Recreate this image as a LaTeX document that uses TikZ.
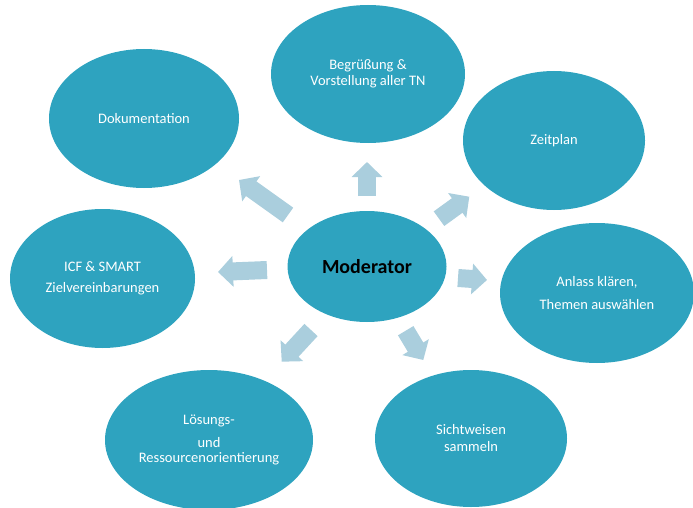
\documentclass[tikz,border=0pt]{standalone}
\usepackage{fontspec}
\setmainfont{Carlito}
\usetikzlibrary{shapes.geometric,arrows.meta}

\definecolor{ovalfill}{RGB}{46,163,191}
\definecolor{arrowfill}{RGB}{170,206,221}

\tikzset{
  oval/.style={ellipse, fill=ovalfill, inner sep=0pt, text=white, align=center,
    font=\fontsize{14.5}{17.4}\selectfont},
  hub/.style={oval, text=black, font=\bfseries\fontsize{20}{24}\selectfont},
  blockarrow/.style={draw=arrowfill, line width=18pt,
    -{Triangle[length=15pt,width=30pt]}}
}

\begin{document}
\begin{tikzpicture}[x=1pt,y=-1pt]
  \path[use as bounding box] (0,0) rectangle (693,508);

  % central hub
  \node[hub, minimum width=159pt, minimum height=111pt] (mod) at (367,266.5) {Moderator};

  % surrounding topics
  \node[oval, minimum width=194pt, minimum height=138pt] (beg) at (368,74)
    {Begrüßung \&\\[-1.4pt]Vorstellung aller TN};
  \node[oval, minimum width=190pt, minimum height=139pt] (dok) at (144,118.5)
    {Dokumentation};
  \node[oval, minimum width=182pt, minimum height=139pt] (zeit) at (554,140.5)
    {Zeitplan};
  \node[oval, minimum width=194pt, minimum height=140pt] (anl) at (597,293)
    {Anlass klären,\\[5.6pt]Themen auswählen};
  \node[oval, minimum width=185pt, minimum height=139pt] (icf) at (102.5,278.5)
    {ICF \& SMART\\[3.6pt]Zielvereinbarungen};
  \node[oval, minimum width=208pt, minimum height=140pt] (loe) at (209,440)
    {Lösungs-\\[5.6pt]und\\[-2.4pt]Ressourcenorientierung};
  \node[oval, minimum width=192pt, minimum height=137pt] (sic) at (471,438.5)
    {Sichtweisen\\[-0.4pt]sammeln};

  % block arrows pointing outwards from the hub
  \coordinate (upT) at (367,196);   \coordinate (upH) at (367,162);
  \coordinate (ulT) at (288,215);   \coordinate (ulH) at (239,180);
  \coordinate (urT) at (439,218.7); \coordinate (urH) at (469.3,196.7);
  \coordinate (lT)  at (267,270);   \coordinate (lH)  at (218,272);
  \coordinate (rT)  at (458,278);   \coordinate (rH)  at (487,280);
  \coordinate (llT) at (311,330);   \coordinate (llH) at (281.7,361.7);
  \coordinate (lrT) at (405.7,330.7); \coordinate (lrH) at (423.3,360);

  \draw[blockarrow] (upT) -- (upH);
  \draw[blockarrow] (ulT) -- (ulH);
  \draw[blockarrow] (urT) -- (urH);
  \draw[blockarrow] (lT) -- (lH);
  \draw[blockarrow] (rT) -- (rH);
  \draw[blockarrow] (llT) -- (llH);
  \draw[blockarrow] (lrT) -- (lrH);
\end{tikzpicture}
\end{document}
